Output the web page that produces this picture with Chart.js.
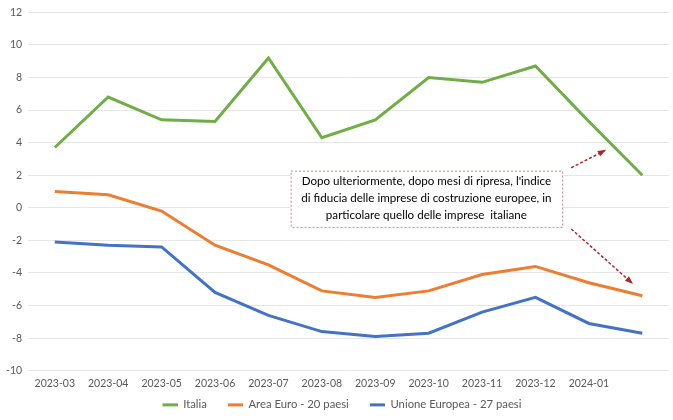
<!DOCTYPE html>
<html>
<head>
<meta charset="utf-8">
<script src="https://cdn.jsdelivr.net/npm/chart.js@4"></script>
<style>
  html, body { margin: 0; padding: 0; background: #fff; }
  #wrap { width: 673px; height: 420px; }
</style>
</head>
<body>
<div id="wrap"><canvas id="chart"></canvas></div>
<script>
var months = ['2023-03', '2023-04', '2023-05', '2023-06', '2023-07', '2023-08',
              '2023-09', '2023-10', '2023-11', '2023-12', '2024-01', ''];
var italia = [3.7, 6.8, 5.4, 5.3, 9.2, 4.3, 5.4, 8.0, 7.7, 8.7, 5.3, 2.0];
var areaEuro = [1.0, 0.8, -0.2, -2.3, -3.5, -5.1, -5.5, -5.1, -4.1, -3.6, -4.6, -5.4];
var unioneEuropea = [-2.1, -2.3, -2.4, -5.2, -6.6, -7.6, -7.9, -7.7, -6.4, -5.5, -7.1, -7.7];

var noteLines = [
    "Dopo ulteriormente, dopo mesi di ripresa, l'indice",
    "di fiducia delle imprese di costruzione europee, in",
    "particolare quello delle imprese  italiane"
];

// legend swatch: blank space on the left, short thick line on the right
function swatch(color) {
    var c = document.createElement('canvas');
    c.width = 30;
    c.height = 8;
    var g = c.getContext('2d');
    g.fillStyle = color;
    g.fillRect(15, 3, 15, 3);
    return c;
}

function arrow(ctx, x1, y1, x2, y2) {
    ctx.save();
    ctx.strokeStyle = '#a52a2a';
    ctx.fillStyle = '#a52a2a';
    ctx.lineWidth = 1.5;
    ctx.setLineDash([3, 2]);
    ctx.beginPath();
    ctx.moveTo(x1, y1);
    ctx.lineTo(x2, y2);
    ctx.stroke();
    ctx.setLineDash([]);
    var a = Math.atan2(y2 - y1, x2 - x1);
    ctx.beginPath();
    ctx.moveTo(x2 + 2 * Math.cos(a), y2 + 2 * Math.sin(a));
    ctx.lineTo(x2 - 7 * Math.cos(a - 0.45), y2 - 7 * Math.sin(a - 0.45));
    ctx.lineTo(x2 - 7 * Math.cos(a + 0.45), y2 - 7 * Math.sin(a + 0.45));
    ctx.closePath();
    ctx.fill();
    ctx.restore();
}

var notePlugin = {
    id: 'note',
    afterDatasetsDraw: function(chart) {
        var ctx = chart.ctx;
        var x = chart.scales.x, y = chart.scales.y;
        var left = x.getPixelForValue(4.415), right = x.getPixelForValue(9.5);
        var top = y.getPixelForValue(2.28), bottom = y.getPixelForValue(-1.17);
        ctx.save();
        ctx.fillStyle = '#ffffff';
        ctx.fillRect(left, top, right - left, bottom - top);
        ctx.strokeStyle = '#d08080';
        ctx.lineWidth = 1;
        ctx.setLineDash([2, 2]);
        ctx.strokeRect(left + 0.5, top + 0.5, right - left, bottom - top);
        ctx.setLineDash([]);
        ctx.fillStyle = '#000000';
        ctx.font = '11.6px Lato';
        ctx.textAlign = 'center';
        ctx.textBaseline = 'middle';
        var cx = (left + right) / 2, cy = (top + bottom) / 2;
        for (var i = 0; i < noteLines.length; i++) {
            ctx.fillText(noteLines[i], cx, cy + (i - 1) * 17);
        }
        ctx.restore();
        arrow(ctx, x.getPixelForValue(9.67), y.getPixelForValue(2.46),
                   x.getPixelForValue(10.29), y.getPixelForValue(3.5));
        arrow(ctx, x.getPixelForValue(9.67), y.getPixelForValue(-1.3),
                   x.getPixelForValue(10.8), y.getPixelForValue(-4.6));
    }
};

Chart.defaults.font.family = 'Lato';
Chart.defaults.color = '#595959';

new Chart(document.getElementById('chart').getContext('2d'), {
    type: 'line',
    data: {
        labels: months,
        datasets: [
            { label: 'Italia', data: italia, borderColor: '#70ad47', backgroundColor: '#70ad47', pointStyle: swatch('#70ad47') },
            { label: 'Area Euro - 20 paesi', data: areaEuro, borderColor: '#ed7d31', backgroundColor: '#ed7d31', pointStyle: swatch('#ed7d31') },
            { label: 'Unione Europea - 27 paesi', data: unioneEuropea, borderColor: '#4472c4', backgroundColor: '#4472c4', pointStyle: swatch('#4472c4') }
        ]
    },
    options: {
        responsive: true,
        maintainAspectRatio: false,
        animation: false,
        layout: { padding: { top: 2, right: 4, left: 0, bottom: 0 } },
        elements: {
            line: { borderWidth: 3, tension: 0 },
            point: { radius: 0 }
        },
        scales: {
            x: {
                offset: true,
                grid: { display: false, drawTicks: false },
                border: { display: false },
                ticks: { autoSkip: false, maxRotation: 0, font: { size: 10.5 }, padding: 7 },
                afterFit: function(scale) { scale.height = 22; }
            },
            y: {
                min: -10,
                max: 12,
                ticks: { stepSize: 2, font: { size: 10.5 }, padding: 6 },
                grid: { color: '#e6e6e6', drawTicks: false },
                border: { display: false }
            }
        },
        plugins: {
            legend: {
                position: 'bottom',
                labels: {
                    usePointStyle: true,
                    pointStyleWidth: 30,
                    boxHeight: 8,
                    padding: 6,
                    font: { size: 11.3 },
                    color: '#595959'
                }
            },
            tooltip: { enabled: false }
        }
    },
    plugins: [notePlugin]
});
</script>
</body>
</html>
